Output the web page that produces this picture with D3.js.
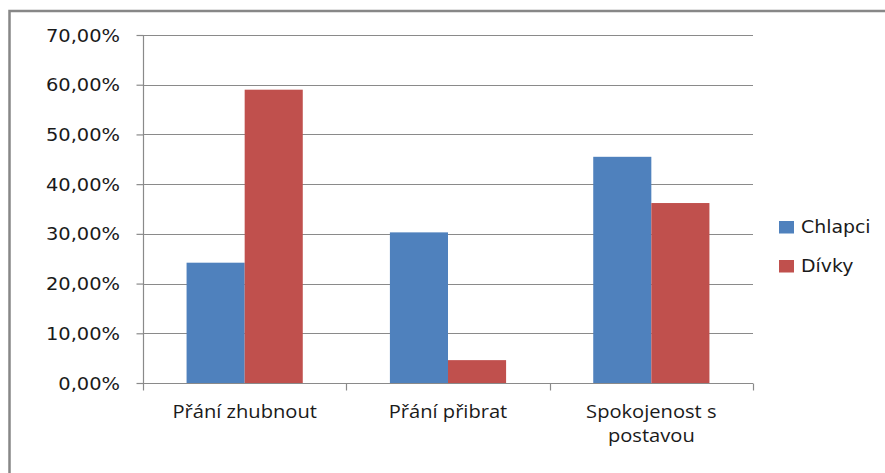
<!DOCTYPE html>
<html>
<head>
<meta charset="utf-8">
<script src="https://cdn.jsdelivr.net/npm/d3@7"></script>
<style>
  body { margin: 0; background: #fff; }
</style>
</head>
<body>
<div id="chart"></div>
<script>
var categories = [["Přání zhubnout"], ["Přání přibrat"], ["Spokojenost s", "postavou"]];
var seriesNames = ["Chlapci", "Dívky"];
var chlapci = [0.242, 0.303, 0.455];
var divky = [0.590, 0.046, 0.362];
var yTicks = [0, 0.1, 0.2, 0.3, 0.4, 0.5, 0.6, 0.7];
var colors = ["#4F81BD", "#C0504D"];

var svgWidth = 885;
var svgHeight = 473;

var margin = { top: 35, right: 132, bottom: 90, left: 143 };
var width = svgWidth - margin.left - margin.right;
var height = svgHeight - margin.top - margin.bottom;

var svg = d3.select("#chart")
  .append("svg")
  .attr("width", svgWidth)
  .attr("height", svgHeight);

// outer frame (only top and left visible in the window)
svg.append("rect")
  .attr("x", 9.5)
  .attr("y", 11)
  .attr("width", 900)
  .attr("height", 500)
  .attr("fill", "none")
  .attr("stroke", "#878787")
  .attr("stroke-width", 2.5);

var chartGroup = svg.append("g")
  .attr("transform", `translate(${margin.left}, ${margin.top})`);

var keys = categories.map(d => d.join(" "));

var x0 = d3.scaleBand()
  .domain(keys)
  .range([0, width])
  .padding(0);

var x1 = d3.scaleBand()
  .domain(seriesNames)
  .range([0, x0.bandwidth()])
  .paddingInner(0)
  .paddingOuter(0.75);

var y = d3.scaleLinear()
  .domain([0, 0.7])
  .range([height, 0]);

var fmt = d => d3.format(".2f")(d * 100).replace(".", ",") + "%";

// gridlines
chartGroup.append("g")
  .selectAll("line")
  .data(yTicks.slice(1))
  .enter()
  .append("line")
  .attr("x1", 0)
  .attr("x2", width)
  .attr("y1", d => Math.round(y(d)) + 0.5)
  .attr("y2", d => Math.round(y(d)) + 0.5)
  .attr("stroke", "#8a8a8a")
  .attr("stroke-width", 1.2);

// bars
var data = keys.map((k, i) => ({ key: k, values: [chlapci[i], divky[i]] }));

var groups = chartGroup.selectAll(".group")
  .data(data)
  .enter()
  .append("g")
  .attr("transform", d => `translate(${x0(d.key)}, 0)`);

groups.selectAll("rect")
  .data(d => d.values.map((v, j) => ({ name: seriesNames[j], value: v, color: colors[j] })))
  .enter()
  .append("rect")
  .attr("x", d => x1(d.name))
  .attr("y", d => y(d.value))
  .attr("width", x1.bandwidth())
  .attr("height", d => height - y(d.value))
  .attr("fill", d => d.color);

// y axis
var leftAxis = d3.axisLeft(y)
  .tickValues(yTicks)
  .tickSize(7)
  .tickFormat("");

var yAxis = chartGroup.append("g")
  .attr("transform", "translate(0.5, 0)")
  .call(leftAxis);
yAxis.select(".domain").attr("stroke", "#8a8a8a").attr("stroke-width", 1.2).attr("d", `M0,${height}V0`);
yAxis.selectAll(".tick line").attr("stroke", "#8a8a8a").attr("stroke-width", 1.2);

chartGroup.append("g")
  .selectAll("text")
  .data(yTicks)
  .enter()
  .append("text")
  .attr("transform", d => `translate(-23, ${y(d) + 6.5}) scale(1.08, 1)`)
  .attr("text-anchor", "end")
  .attr("font-family", "DejaVu Sans, Verdana, sans-serif")
  .attr("font-size", 18)
  .attr("fill", "#1a1a1a")
  .text(fmt);

// x axis
var bottomAxis = d3.axisBottom(x0)
  .tickSize(0)
  .tickFormat("");

var xAxis = chartGroup.append("g")
  .attr("transform", `translate(0, ${height + 0.5})`)
  .call(bottomAxis);
xAxis.select(".domain").attr("stroke", "#8a8a8a").attr("stroke-width", 1.2).attr("d", `M0,0H${width}`);

var boundaries = keys.map(k => x0(k)).concat([width]);
xAxis.selectAll(".bound")
  .data(boundaries)
  .enter()
  .append("line")
  .attr("x1", d => Math.round(d) + 0.5)
  .attr("x2", d => Math.round(d) + 0.5)
  .attr("y1", 0)
  .attr("y2", 7)
  .attr("stroke", "#8a8a8a")
  .attr("stroke-width", 1.2);

// category labels
var catLabels = chartGroup.append("g")
  .selectAll("g")
  .data(categories)
  .enter()
  .append("g")
  .attr("transform", (d, i) => `translate(${x0(keys[i]) + x0.bandwidth() / 2}, ${height + 35}) scale(1.15, 1)`);

catLabels.selectAll("text")
  .data(d => d)
  .enter()
  .append("text")
  .attr("y", (d, i) => i * 24.5)
  .attr("text-anchor", "middle")
  .attr("font-family", "Open Sans, sans-serif")
  .attr("font-size", 17.5)
  .attr("fill", "#1a1a1a")
  .text(d => d);

// legend
var legend = svg.append("g")
  .attr("transform", "translate(779, 221)");

var items = legend.selectAll("g")
  .data(seriesNames)
  .enter()
  .append("g")
  .attr("transform", (d, i) => `translate(0, ${i * 39})`);

items.append("rect")
  .attr("width", 15)
  .attr("height", 12.5)
  .attr("fill", (d, i) => colors[i]);

items.append("text")
  .attr("transform", "translate(22, 12) scale(1.05, 1)")
  .attr("font-family", "DejaVu Sans, Verdana, sans-serif")
  .attr("font-size", 18)
  .attr("fill", "#1a1a1a")
  .text(d => d);
</script>
</body>
</html>
